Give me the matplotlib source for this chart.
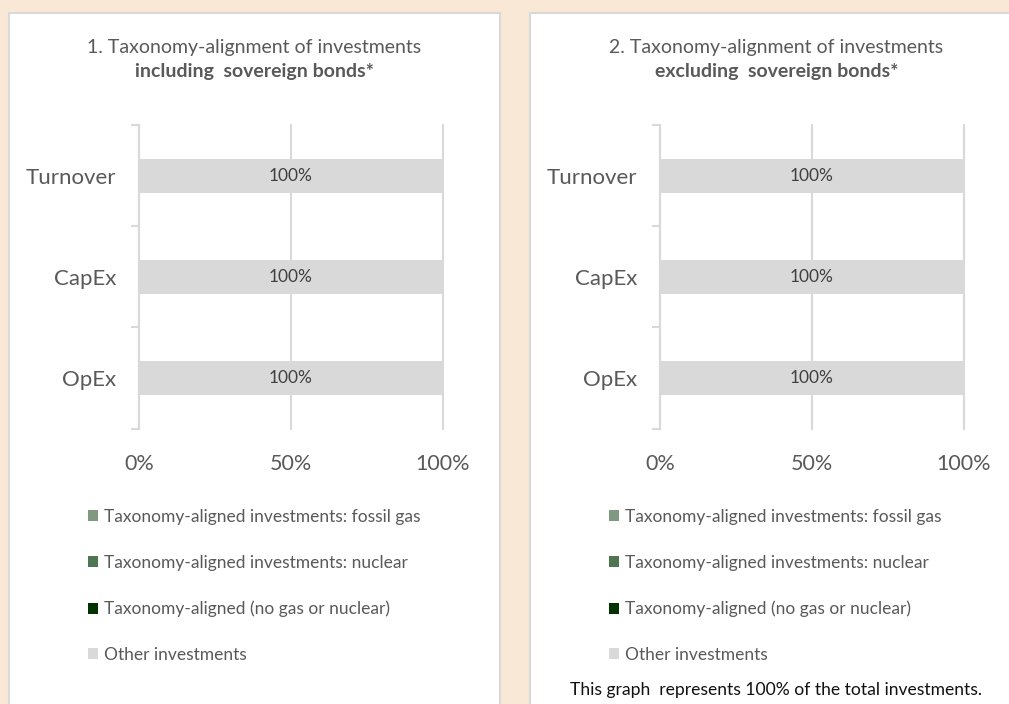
import matplotlib
matplotlib.use("Agg")
import matplotlib.pyplot as plt
from matplotlib.patches import Rectangle
import numpy as np

plt.rcParams['font.family'] = ['Lato', 'DejaVu Sans']

# ---- data ----
categories = ["Turnover", "CapEx", "OpEx"]
series_names = [
    "Taxonomy-aligned investments: fossil gas",
    "Taxonomy-aligned investments: nuclear",
    "Taxonomy-aligned (no gas or nuclear)",
    "Other investments",
]
series_colors = ["#7F9A80", "#4F7552", "#003300", "#D9D9D9"]
# values per series (Turnover, CapEx, OpEx) in %
incl_fossil_gas = [0, 0, 0]
incl_nuclear = [0, 0, 0]
incl_aligned = [0, 0, 0]
incl_other = [100, 100, 100]
excl_fossil_gas = [0, 0, 0]
excl_nuclear = [0, 0, 0]
excl_aligned = [0, 0, 0]
excl_other = [100, 100, 100]
xticks = [0, 50, 100]
xtick_labels = ["0%", "50%", "100%"]
titles = [
    ("1. Taxonomy-alignment of investments", "including  sovereign bonds*"),
    ("2. Taxonomy-alignment of investments", "excluding  sovereign bonds*"),
]
note = "This graph  represents 100% of the total investments."

W, H = 1009, 704
BG = "#FAE8D6"
GRID = "#D9D9D9"
TXT = "#595959"

fig = plt.figure(figsize=(W / 100, H / 100), dpi=100, facecolor=BG)


def fx(px):
    return px / W


def fy(py):
    return 1 - py / H


panels = [(9, 500), (530, 1023)]
axes_x = [(139, 443), (660, 964)]
legend_x = [88, 609]
datasets = [
    [incl_fossil_gas, incl_nuclear, incl_aligned, incl_other],
    [excl_fossil_gas, excl_nuclear, excl_aligned, excl_other],
]

for i in range(2):
    x0, x1 = panels[i]
    fig.patches.append(Rectangle((fx(x0), fy(720)), fx(x1 - x0), (720 - 12.7) / H,
                                 transform=fig.transFigure, facecolor="white",
                                 edgecolor=GRID, linewidth=1.5, zorder=-10))
    cx = fx((x0 + x1) / 2)
    fig.text(cx, fy(48), titles[i][0], ha="center", va="center", fontsize=14, color=TXT)
    fig.text(cx, fy(72), titles[i][1], ha="center", va="center", fontsize=14,
             color=TXT, fontweight="bold")

    ax0, ax1 = axes_x[i]
    top, bot = 125, 428.5
    ax = fig.add_axes([fx(ax0), fy(bot), fx(ax1 - ax0), (bot - top) / H])
    ax.set_facecolor("none")
    ypos = np.arange(len(categories))[::-1]
    left = np.zeros(len(categories))
    handles = []
    for vals, name, col in zip(datasets[i], series_names, series_colors):
        v = np.array(vals, dtype=float)
        b = ax.barh(ypos, v, left=left, height=0.335, color=col, label=name, zorder=2)
        handles.append(b)
        for yy, vv, ll in zip(ypos, v, left):
            if vv > 0:
                ax.text(ll + vv / 2, yy, f"{vv:.0f}%", ha="center", va="center",
                        fontsize=12.5, color="#404040", zorder=3)
        left = left + v
    ax.set_xlim(0, 100)
    ax.set_ylim(-0.5, len(categories) - 0.5)
    ax.set_xticks(xticks)
    ax.set_xticklabels(xtick_labels)
    ax.set_yticks(ypos)
    ax.set_yticklabels(categories)
    ax.set_yticks(np.arange(-0.5, len(categories), 1.0), minor=True)
    for s in ["top", "right", "bottom"]:
        ax.spines[s].set_visible(False)
    ax.spines["left"].set_color(GRID)
    ax.spines["left"].set_linewidth(1.5)
    ax.xaxis.grid(True, color=GRID, linewidth=1.5, zorder=1)
    ax.set_axisbelow(True)
    for gl in ax.get_xgridlines():
        gl.set_clip_on(False)
    ax.tick_params(axis="x", length=0, pad=18, labelsize=15.5, labelcolor=TXT)
    ax.tick_params(axis="y", which="major", length=0, pad=16.5, labelsize=16, labelcolor=TXT)
    ax.tick_params(axis="y", which="minor", length=5.5, width=1.5, color=GRID)

    fig.legend(handles=handles, labels=series_names, loc="upper left",
               bbox_to_anchor=(fx(legend_x[i] - 7), fy(502)), frameon=False,
               fontsize=12.5, labelcolor=TXT, handlelength=0.6, handleheight=0.6,
               handletextpad=0.3, labelspacing=1.72, borderaxespad=0)

fig.text(fx(776.5), fy(690), note, ha="center", va="center", fontsize=12.6, color="#111111")

fig.savefig("out.png", dpi=100, facecolor=BG)
